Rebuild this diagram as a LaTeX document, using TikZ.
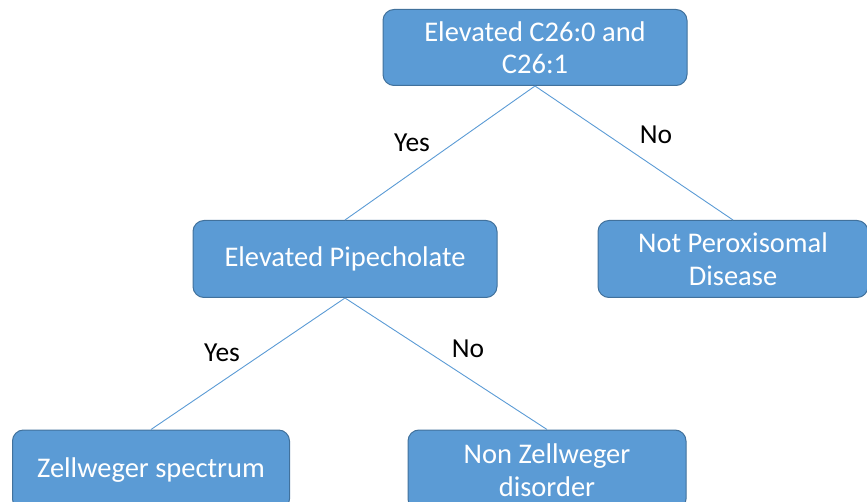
\documentclass[tikz,border=0pt]{standalone}
\usepackage{fontspec}
\setmainfont{Carlito}
\begin{document}
\begin{tikzpicture}[x=1pt,y=-1pt,
  box/.style={draw=boxline,fill=boxfill,line width=1pt,rounded corners=11pt,
    text=white,align=center,font=\fontsize{28.5}{32.5}\selectfont,inner sep=0pt},
  link/.style={draw=boxfill,line width=0.9pt},
  lab/.style={font=\fontsize{27.5}{30}\selectfont,text=black}]
\definecolor{boxfill}{HTML}{5B9BD5}
\definecolor{boxline}{HTML}{41719C}
\useasboundingbox (0,0) rectangle (867,502);
\clip (0,0) rectangle (867,502);
% decision boxes
\node[box,minimum width=304pt,minimum height=76pt] (c26) at (535,47.5) {Elevated C26:0 and\\C26:1};
\node[box,minimum width=304pt,minimum height=77pt] (pip) at (345,259) {Elevated Pipecholate};
\node[box,minimum width=270pt,minimum height=77pt] (notp) at (733,259) {Not Peroxisomal\\Disease};
\node[box,minimum width=277pt,minimum height=80pt] (zs) at (151,470) {Zellweger spectrum};
\node[box,minimum width=278pt,minimum height=80pt] (nz) at (547,470) {Non Zellweger\\disorder};
% branches
\draw[link] (c26.south) -- (pip.north);
\draw[link] (c26.south) -- (notp.north);
\draw[link] (pip.south) -- (zs.north);
\draw[link] (pip.south) -- (nz.north);
% branch labels
\node[lab] (y1) at (412,143) {Yes};
\node[lab] (n1) at (656,135) {No};
\node[lab] (y2) at (222,353) {Yes};
\node[lab] (n2) at (468,349) {No};
\end{tikzpicture}
\end{document}
